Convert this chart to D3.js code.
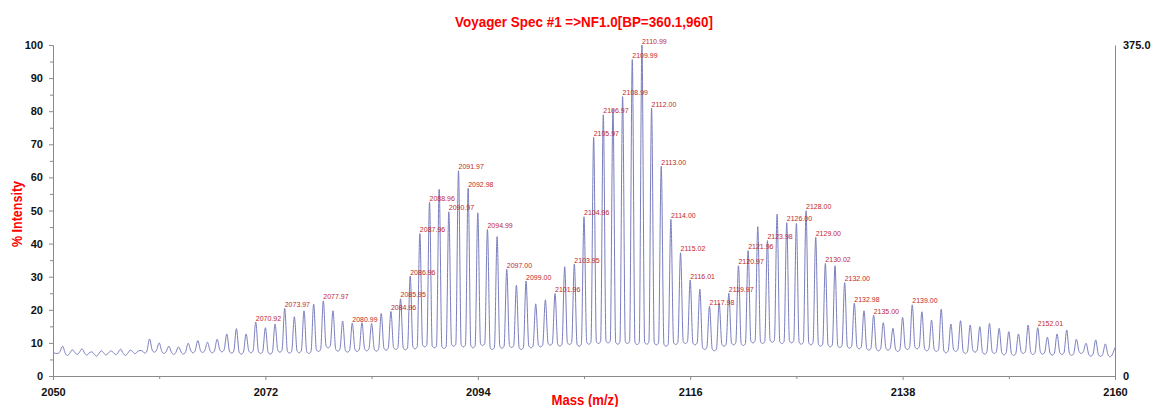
<!DOCTYPE html>
<html>
<head>
<meta charset="utf-8">
<script src="https://cdn.jsdelivr.net/npm/d3@7"></script>
<style>
  body { margin: 0; background: #fff; }
  svg { display: block; }
  .axis path, .axis line { stroke: #8a8a8a; }
  .axis text { font-family: Arial, "Liberation Sans", sans-serif; font-weight: bold; font-size: 11px; fill: #111; }
</style>
</head>
<body>
<svg id="chart"></svg>
<script>
// peak masses (m/z) and their % intensity
const peakMass = [
  2051, 2052, 2053, 2054, 2055, 2056, 2057, 2058, 2059, 2060,
  2061, 2062, 2063, 2064, 2065, 2066, 2067, 2068, 2069, 2070,
  2071, 2072, 2073, 2074, 2075, 2076, 2077, 2078, 2079, 2080,
  2081, 2082, 2083, 2084, 2085, 2086, 2087, 2088, 2089, 2090,
  2091, 2092, 2093, 2094, 2095, 2096, 2097, 2098, 2099, 2100,
  2101, 2102, 2103, 2104, 2105, 2106, 2107, 2108, 2109, 2110,
  2111, 2112, 2113, 2114, 2115, 2116, 2117, 2118, 2119, 2120,
  2121, 2122, 2123, 2124, 2125, 2126, 2127, 2128, 2129, 2130,
  2131, 2132, 2133, 2134, 2135, 2136, 2137, 2138, 2139, 2140,
  2141, 2142, 2143, 2144, 2145, 2146, 2147, 2148, 2149, 2150,
  2151, 2152, 2153, 2154, 2155, 2156, 2157, 2158, 2159
];
const peakIntensity = [
  9.0, 7.9, 8.2, 7.3, 7.6, 7.6, 8.1, 7.8, 7.7, 11.2,
  10.0, 9.0, 8.8, 9.9, 10.7, 10.2, 11.1, 12.7, 14.3, 12.7,
  16.3, 14.6, 15.7, 20.4, 17.9, 19.7, 21.7, 22.7, 19.7, 16.6,
  16.0, 16.1, 15.9, 18.9, 19.5, 23.3, 30.2, 43.0, 52.5, 56.4,
  49.6, 62.0, 56.7, 49.3, 44.3, 42.1, 32.2, 27.4, 28.7, 21.8,
  23.0, 24.9, 33.0, 33.8, 48.1, 72.1, 78.9, 80.7, 84.4, 95.6,
  100.0, 80.9, 63.4, 47.3, 37.2, 29.0, 26.2, 21.1, 22.0, 25.0,
  33.3, 37.9, 45.1, 40.9, 48.9, 46.3, 46.1, 49.9, 41.9, 34.0,
  33.3, 28.2, 22.0, 19.7, 18.4, 16.1, 14.4, 17.7, 21.5, 19.4,
  16.9, 20.2, 15.7, 16.7, 15.4, 14.9, 15.9, 14.4, 13.4, 12.7,
  15.4, 14.6, 11.7, 12.7, 13.9, 11.1, 9.9, 10.9, 9.7
];
// baseline level between neighbouring peaks (2050.5 ... 2159.5)
const valleyIntensity = [
  6.8, 6.2, 6.5, 6.3, 6.0, 6.3, 6.4, 6.2, 6.7, 6.9,
  7.2, 6.8, 6.5, 6.6, 7.0, 7.1, 7.0, 7.3, 6.9, 6.6,
  7.0, 6.8, 6.6, 7.2, 6.9, 7.0, 6.8, 7.4, 8.5, 7.5,
  7.2, 7.4, 7.6, 7.5, 7.8, 8.0, 7.9, 8.2, 8.8, 8.5,
  8.3, 9.0, 8.8, 8.5, 9.2, 8.0, 8.4, 8.6, 8.0, 8.5,
  8.8, 9.3, 9.0, 9.5, 9.0, 9.6, 9.8, 10.0, 9.6, 9.8,
  9.5, 9.6, 9.4, 9.0, 9.5, 9.8, 9.4, 8.0, 7.6, 9.0,
  9.4, 9.2, 10.0, 9.8, 10.2, 9.8, 10.0, 9.6, 9.4, 9.0,
  8.8, 8.6, 8.4, 8.2, 7.8, 7.6, 7.8, 7.4, 8.0, 8.2,
  7.6, 7.4, 7.0, 7.4, 6.8, 7.2, 6.6, 6.8, 6.4, 6.2,
  6.8, 6.5, 6.6, 6.3, 6.5, 6.2, 6.8, 6.0, 5.9, 5.8
];
const startIntensity = 7.0;
const endIntensity = 8.6;

// annotated peaks
const labelText = [
  "2070.92", "2073.97", "2077.97", "2080.99", "2084.96", "2085.95", "2086.96",
  "2087.96", "2088.96", "2090.97", "2091.97", "2092.98", "2094.99", "2097.00",
  "2099.00", "2101.96", "2103.95", "2104.96", "2105.97", "2106.97", "2108.99",
  "2109.99", "2110.99", "2112.00", "2113.00", "2114.00", "2115.02", "2116.01",
  "2117.98", "2119.97", "2120.97", "2121.96", "2123.98", "2126.00", "2128.00",
  "2129.00", "2130.02", "2132.00", "2132.98", "2135.00", "2139.00", "2152.01"
];
const labelPeak = [
  2071, 2074, 2078, 2081, 2085, 2086, 2087,
  2088, 2089, 2091, 2092, 2093, 2095, 2097,
  2099, 2102, 2104, 2105, 2106, 2107, 2109,
  2110, 2111, 2112, 2113, 2114, 2115, 2116,
  2118, 2120, 2121, 2122, 2124, 2126, 2128,
  2129, 2130, 2132, 2133, 2135, 2139, 2152
];

const xTicks = [2050, 2072, 2094, 2116, 2138, 2160];
const xMinorTicks = [2061, 2083, 2105, 2127, 2149];
const yTicks = [0, 10, 20, 30, 40, 50, 60, 70, 80, 90, 100];
const yMinorTicks = [5, 15, 25, 35, 45, 55, 65, 75, 85, 95];

const W = 1151, H = 407;
const margin = { top: 45, right: 36, bottom: 31, left: 53 };

const svg = d3.select("#chart").attr("width", W).attr("height", H);

const x = d3.scaleLinear().domain([2050, 2160]).range([margin.left, W - margin.right]);
const y = d3.scaleLinear().domain([0, 100]).range([H - margin.bottom, margin.top]);
const yRight = d3.scaleLinear().domain([0, 375]).range([H - margin.bottom, margin.top]);

// build the trace: valley - foot - apex - foot - valley
const trace = [[2050, startIntensity]];
peakMass.forEach((m, i) => {
  const vb = valleyIntensity[i], va = valleyIntensity[i + 1];
  trace.push([m - 0.5, vb]);
  trace.push([m - 0.28, vb + 0.6]);
  trace.push([m, peakIntensity[i]]);
  trace.push([m + 0.28, va + 0.6]);
});
trace.push([2159.5, valleyIntensity[valleyIntensity.length - 1]]);
trace.push([2160, endIntensity]);

// axes
svg.append("g")
  .attr("class", "axis")
  .attr("transform", `translate(0,${H - margin.bottom})`)
  .call(d3.axisBottom(x).tickValues(xTicks).tickFormat(d3.format("d")).tickSize(4).tickPadding(8));
svg.append("g")
  .attr("class", "axis")
  .attr("transform", `translate(0,${H - margin.bottom})`)
  .call(d3.axisBottom(x).tickValues(xMinorTicks).tickFormat("").tickSize(3))
  .select(".domain").remove();

svg.append("g")
  .attr("class", "axis")
  .attr("transform", `translate(${margin.left},0)`)
  .call(d3.axisLeft(y).tickValues(yTicks).tickSize(4).tickPadding(6));
svg.append("g")
  .attr("class", "axis")
  .attr("transform", `translate(${margin.left},0)`)
  .call(d3.axisLeft(y).tickValues(yMinorTicks).tickFormat("").tickSize(3))
  .select(".domain").remove();

svg.append("g")
  .attr("class", "axis")
  .attr("transform", `translate(${W - margin.right},0)`)
  .call(d3.axisRight(yRight).tickValues([0, 375]).tickFormat(d => d === 0 ? "0" : d3.format(".1f")(d)).tickSize(0).tickPadding(8));

// spectrum
svg.append("path")
  .datum(trace)
  .attr("fill", "none")
  .attr("stroke", "#7a7ebd")
  .attr("stroke-width", 1)
  .attr("d", d3.line().x(d => x(d[0])).y(d => y(d[1])).curve(d3.curveMonotoneX));

// peak labels
svg.append("g")
  .selectAll("text")
  .data(labelText)
  .enter()
  .append("text")
  .attr("x", (d, i) => x(labelPeak[i]))
  .attr("y", (d, i) => y(peakIntensity[peakMass.indexOf(labelPeak[i])]) - 1.5)
  .attr("font-family", "Arial, 'Liberation Sans', sans-serif")
  .attr("font-size", "7px")
  .attr("fill", "#c0282d")
  .text(d => d);

// titles (narrow bold face in the original)
svg.append("text")
  .attr("x", 584).attr("y", 27)
  .attr("text-anchor", "middle")
  .attr("font-family", "Arial, 'Liberation Sans', sans-serif")
  .attr("font-weight", "bold").attr("font-size", "15px")
  .attr("textLength", 258).attr("lengthAdjust", "spacingAndGlyphs")
  .attr("fill", "#ff0000")
  .text("Voyager Spec #1 =>NF1.0[BP=360.1,960]");

svg.append("text")
  .attr("x", 585).attr("y", 405)
  .attr("text-anchor", "middle")
  .attr("font-family", "Arial, 'Liberation Sans', sans-serif")
  .attr("font-weight", "bold").attr("font-size", "14px")
  .attr("textLength", 67).attr("lengthAdjust", "spacingAndGlyphs")
  .attr("fill", "#ff0000")
  .text("Mass (m/z)");

svg.append("text")
  .attr("transform", "translate(22,214) rotate(-90)")
  .attr("text-anchor", "middle")
  .attr("font-family", "Arial, 'Liberation Sans', sans-serif")
  .attr("font-weight", "bold").attr("font-size", "14px")
  .attr("textLength", 66).attr("lengthAdjust", "spacingAndGlyphs")
  .attr("fill", "#ff0000")
  .text("% Intensity");
</script>
</body>
</html>
